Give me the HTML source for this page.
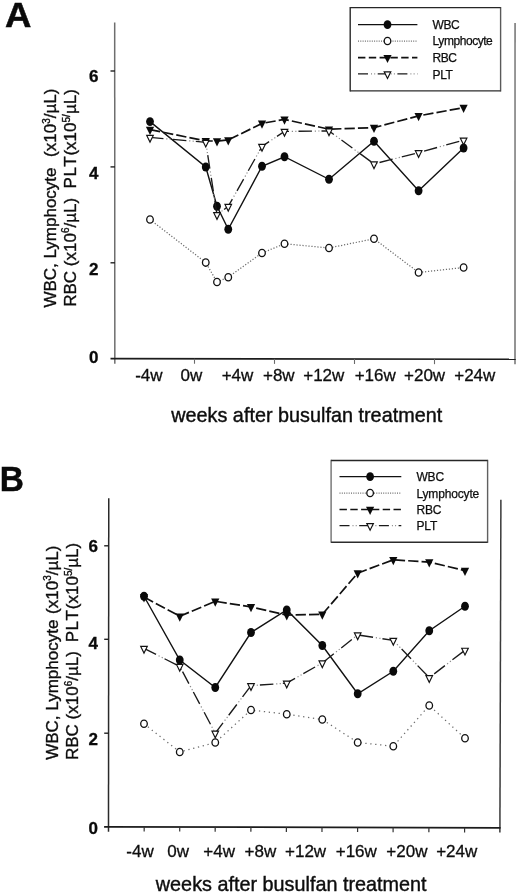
<!DOCTYPE html>
<html lang="en"><head><meta charset="utf-8"><title>Figure</title>
<style>
html,body{margin:0;padding:0;background:#fff;}
svg{display:block;font-family:"Liberation Sans", Arial, sans-serif;}
</style></head><body>
<svg width="520" height="895" viewBox="0 0 520 895">
<rect width="520" height="895" fill="#fff"/>

<text transform="translate(5.1,26.7) scale(1.05,1)" font-size="34.8" font-weight="bold" fill="#0a0a0a" stroke="#0a0a0a" stroke-width="0.5">A</text>
<line x1="114.7" y1="22.5" x2="114.8" y2="363.7" stroke="#6e6e6e" stroke-width="1.5"/>
<line x1="515.05" y1="22.9" x2="515.0" y2="364.3" stroke="#7c7c7c" stroke-width="1.6"/>
<line x1="110.5" y1="358.6" x2="515.7" y2="359.3" stroke="#1c1c1c" stroke-width="1.6"/>
<line x1="110.5" y1="71" x2="115" y2="71" stroke="#222" stroke-width="1.4"/>
<line x1="110.5" y1="166.9" x2="115" y2="166.9" stroke="#222" stroke-width="1.4"/>
<line x1="110.5" y1="262.8" x2="115" y2="262.8" stroke="#222" stroke-width="1.4"/>
<line x1="194.5" y1="358.75" x2="194.5" y2="363.75" stroke="#6a6a6a" stroke-width="1.1"/>
<line x1="274.5" y1="358.88" x2="274.5" y2="363.88" stroke="#6a6a6a" stroke-width="1.1"/>
<line x1="354.5" y1="359.02" x2="354.5" y2="364.02" stroke="#6a6a6a" stroke-width="1.1"/>
<line x1="434.5" y1="359.16" x2="434.5" y2="364.16" stroke="#6a6a6a" stroke-width="1.1"/>
<text x="93.7" y="81.9" font-size="17" font-weight="bold" text-anchor="middle" fill="#0a0a0a" stroke="#0a0a0a" stroke-width="0.3">6</text>
<text x="93.7" y="178.6" font-size="17" font-weight="bold" text-anchor="middle" fill="#0a0a0a" stroke="#0a0a0a" stroke-width="0.3">4</text>
<text x="93.7" y="274.7" font-size="17" font-weight="bold" text-anchor="middle" fill="#0a0a0a" stroke="#0a0a0a" stroke-width="0.3">2</text>
<text x="93.7" y="363.0" font-size="17" font-weight="bold" text-anchor="middle" fill="#0a0a0a" stroke="#0a0a0a" stroke-width="0.3">0</text>
<text x="148.9" y="381" font-size="17" text-anchor="middle" fill="#0e0e0e" stroke="#0e0e0e" stroke-width="0.3">-4w</text>
<text x="191.3" y="381" font-size="17" text-anchor="middle" fill="#0e0e0e" stroke="#0e0e0e" stroke-width="0.3">0w</text>
<text x="237.5" y="381" font-size="17" text-anchor="middle" fill="#0e0e0e" stroke="#0e0e0e" stroke-width="0.3">+4w</text>
<text x="278.8" y="381" font-size="17" text-anchor="middle" fill="#0e0e0e" stroke="#0e0e0e" stroke-width="0.3">+8w</text>
<text x="323.8" y="381" font-size="17" text-anchor="middle" fill="#0e0e0e" stroke="#0e0e0e" stroke-width="0.3">+12w</text>
<text x="375.2" y="381" font-size="17" text-anchor="middle" fill="#0e0e0e" stroke="#0e0e0e" stroke-width="0.3">+16w</text>
<text x="424.6" y="381" font-size="17" text-anchor="middle" fill="#0e0e0e" stroke="#0e0e0e" stroke-width="0.3">+20w</text>
<text x="474.8" y="381" font-size="17" text-anchor="middle" fill="#0e0e0e" stroke="#0e0e0e" stroke-width="0.3">+24w</text>
<text x="171.2" y="421.6" font-size="19.8" textLength="271" lengthAdjust="spacing" fill="#0e0e0e" stroke="#0e0e0e" stroke-width="0.4">weeks after busulfan treatment</text>
<text transform="translate(55.8,307.6) rotate(-90)" font-size="17" text-anchor="start" fill="#0e0e0e" stroke="#0e0e0e" stroke-width="0.35">WBC, Lymphocyte</text>
<text transform="translate(55.8,88.6) rotate(-90)" font-size="17" text-anchor="end" fill="#0e0e0e" stroke="#0e0e0e" stroke-width="0.35">(x10<tspan font-size="10" dy="-6.2">3</tspan><tspan dy="6.2">/</tspan>µL)</text>
<text transform="translate(75.6,306.8) rotate(-90)" font-size="17" text-anchor="start" fill="#0e0e0e" stroke="#0e0e0e" stroke-width="0.35">RBC (x10<tspan font-size="10" dy="-6.2">6</tspan><tspan dy="6.2">/</tspan>µL)</text>
<text transform="translate(75.6,89.2) rotate(-90)" font-size="17" text-anchor="end" fill="#0e0e0e" stroke="#0e0e0e" stroke-width="0.35"><tspan letter-spacing="0.5">PL</tspan><tspan letter-spacing="0.7">T</tspan>(x10<tspan font-size="10" dy="-6">5/</tspan><tspan dy="6">µL)</tspan></text>
<polyline points="150.00,121.60 205.75,167.00 217.00,206.25 228.25,229.25 262.00,166.25 284.50,156.75 329.00,179.25 374.00,141.25 418.60,190.75 463.60,148.00" fill="none" stroke="#111" stroke-width="1.4"/>
<ellipse cx="150.00" cy="121.60" rx="3.9" ry="4.45" fill="#0a0a0a"/>
<ellipse cx="205.75" cy="167.00" rx="3.9" ry="4.45" fill="#0a0a0a"/>
<ellipse cx="217.00" cy="206.25" rx="3.9" ry="4.45" fill="#0a0a0a"/>
<ellipse cx="228.25" cy="229.25" rx="3.9" ry="4.45" fill="#0a0a0a"/>
<ellipse cx="262.00" cy="166.25" rx="3.9" ry="4.45" fill="#0a0a0a"/>
<ellipse cx="284.50" cy="156.75" rx="3.9" ry="4.45" fill="#0a0a0a"/>
<ellipse cx="329.00" cy="179.25" rx="3.9" ry="4.45" fill="#0a0a0a"/>
<ellipse cx="374.00" cy="141.25" rx="3.9" ry="4.45" fill="#0a0a0a"/>
<ellipse cx="418.60" cy="190.75" rx="3.9" ry="4.45" fill="#0a0a0a"/>
<ellipse cx="463.60" cy="148.00" rx="3.9" ry="4.45" fill="#0a0a0a"/>
<polyline points="150.00,219.50 205.75,262.60 217.00,282.00 228.25,277.20 262.00,253.00 284.50,243.75 329.00,248.00 374.00,238.75 418.60,272.50 463.60,267.50" fill="none" stroke="#6c6c6c" stroke-width="1.25" stroke-linecap="butt" stroke-dasharray="1.2 1.8"/>
<ellipse cx="150.00" cy="219.50" rx="3.3" ry="3.65" fill="#fff" stroke="#111" stroke-width="1.3"/>
<ellipse cx="205.75" cy="262.60" rx="3.3" ry="3.65" fill="#fff" stroke="#111" stroke-width="1.3"/>
<ellipse cx="217.00" cy="282.00" rx="3.3" ry="3.65" fill="#fff" stroke="#111" stroke-width="1.3"/>
<ellipse cx="228.25" cy="277.20" rx="3.3" ry="3.65" fill="#fff" stroke="#111" stroke-width="1.3"/>
<ellipse cx="262.00" cy="253.00" rx="3.3" ry="3.65" fill="#fff" stroke="#111" stroke-width="1.3"/>
<ellipse cx="284.50" cy="243.75" rx="3.3" ry="3.65" fill="#fff" stroke="#111" stroke-width="1.3"/>
<ellipse cx="329.00" cy="248.00" rx="3.3" ry="3.65" fill="#fff" stroke="#111" stroke-width="1.3"/>
<ellipse cx="374.00" cy="238.75" rx="3.3" ry="3.65" fill="#fff" stroke="#111" stroke-width="1.3"/>
<ellipse cx="418.60" cy="272.50" rx="3.3" ry="3.65" fill="#fff" stroke="#111" stroke-width="1.3"/>
<ellipse cx="463.60" cy="267.50" rx="3.3" ry="3.65" fill="#fff" stroke="#111" stroke-width="1.3"/>
<polyline points="150.00,129.60 205.75,140.90 217.00,141.10 228.25,140.00 262.00,123.40 284.50,119.40 329.00,129.20 374.00,127.65 418.60,115.90 463.60,107.65" fill="none" stroke="#111" stroke-width="1.7" stroke-dasharray="10.3 3.1"/>
<polygon points="145.90,126.80 154.10,126.80 150.00,135.00" fill="#0a0a0a"/>
<polygon points="201.65,138.10 209.85,138.10 205.75,146.30" fill="#0a0a0a"/>
<polygon points="212.90,138.30 221.10,138.30 217.00,146.50" fill="#0a0a0a"/>
<polygon points="224.15,137.20 232.35,137.20 228.25,145.40" fill="#0a0a0a"/>
<polygon points="257.90,120.60 266.10,120.60 262.00,128.80" fill="#0a0a0a"/>
<polygon points="280.40,116.60 288.60,116.60 284.50,124.80" fill="#0a0a0a"/>
<polygon points="324.90,126.40 333.10,126.40 329.00,134.60" fill="#0a0a0a"/>
<polygon points="369.90,124.85 378.10,124.85 374.00,133.05" fill="#0a0a0a"/>
<polygon points="414.50,113.10 422.70,113.10 418.60,121.30" fill="#0a0a0a"/>
<polygon points="459.50,104.85 467.70,104.85 463.60,113.05" fill="#0a0a0a"/>
<polyline points="150.00,137.40 205.75,142.30 217.00,214.65 228.25,206.40 262.00,146.40 284.50,131.40 329.00,130.90 374.00,163.90 418.60,152.65 463.60,140.15" fill="none" stroke="#8a8a8a" stroke-width="1.2" stroke-dasharray="0 16.3 1.2 2.3 1.2 2"/>
<polyline points="150.00,137.40 205.75,142.30 217.00,214.65 228.25,206.40 262.00,146.40 284.50,131.40 329.00,130.90 374.00,163.90 418.60,152.65 463.60,140.15" fill="none" stroke="#1a1a1a" stroke-width="1.35" stroke-dasharray="13.5 9.5"/>
<polygon points="146.70,135.40 153.30,135.40 150.00,142.10" fill="#fff" stroke="#111" stroke-width="1.15" stroke-linejoin="miter"/>
<polygon points="202.45,140.30 209.05,140.30 205.75,147.00" fill="#fff" stroke="#111" stroke-width="1.15" stroke-linejoin="miter"/>
<polygon points="213.70,212.65 220.30,212.65 217.00,219.35" fill="#fff" stroke="#111" stroke-width="1.15" stroke-linejoin="miter"/>
<polygon points="224.95,204.40 231.55,204.40 228.25,211.10" fill="#fff" stroke="#111" stroke-width="1.15" stroke-linejoin="miter"/>
<polygon points="258.70,144.40 265.30,144.40 262.00,151.10" fill="#fff" stroke="#111" stroke-width="1.15" stroke-linejoin="miter"/>
<polygon points="281.20,129.40 287.80,129.40 284.50,136.10" fill="#fff" stroke="#111" stroke-width="1.15" stroke-linejoin="miter"/>
<polygon points="325.70,128.90 332.30,128.90 329.00,135.60" fill="#fff" stroke="#111" stroke-width="1.15" stroke-linejoin="miter"/>
<polygon points="370.70,161.90 377.30,161.90 374.00,168.60" fill="#fff" stroke="#111" stroke-width="1.15" stroke-linejoin="miter"/>
<polygon points="415.30,150.65 421.90,150.65 418.60,157.35" fill="#fff" stroke="#111" stroke-width="1.15" stroke-linejoin="miter"/>
<polygon points="460.30,138.15 466.90,138.15 463.60,144.85" fill="#fff" stroke="#111" stroke-width="1.15" stroke-linejoin="miter"/>
<rect x="350.2" y="7.65" width="150.40000000000003" height="83.25" fill="#fff"/>
<line x1="350.2" y1="7.0" x2="350.2" y2="91.55000000000001" stroke="#2a2a2a" stroke-width="1.4"/>
<line x1="500.6" y1="7.0" x2="500.6" y2="91.55000000000001" stroke="#5a5a5a" stroke-width="1.4"/>
<line x1="350.2" y1="7.65" x2="500.6" y2="7.65" stroke="#262626" stroke-width="1.35"/>
<line x1="350.2" y1="90.9" x2="500.6" y2="90.9" stroke="#2c2c2c" stroke-width="1.35"/>
<polyline points="358.00,24.60 387.50,24.60 417.40,24.60" fill="none" stroke="#111" stroke-width="1.4"/>
<ellipse cx="387.50" cy="24.60" rx="3.9" ry="4.45" fill="#0a0a0a"/>
<text x="432.6" y="28.8" font-size="12" letter-spacing="-0.45" fill="#0e0e0e" stroke="#0e0e0e" stroke-width="0.25">WBC</text>
<polyline points="358.00,41.00 387.50,41.00 417.40,41.00" fill="none" stroke="#6c6c6c" stroke-width="1.25" stroke-linecap="butt" stroke-dasharray="1 1.3"/>
<ellipse cx="387.50" cy="41.00" rx="3.3" ry="3.65" fill="#fff" stroke="#111" stroke-width="1.3"/>
<text x="432.6" y="45.4" font-size="12" letter-spacing="-0.45" fill="#0e0e0e" stroke="#0e0e0e" stroke-width="0.25">Lymphocyte</text>
<polyline points="358.00,57.70 387.50,57.70 417.40,57.70" fill="none" stroke="#111" stroke-width="1.7" stroke-dasharray="7.4 3.4"/>
<polygon points="383.40,54.90 391.60,54.90 387.50,63.10" fill="#0a0a0a"/>
<text x="432.6" y="62" font-size="12" letter-spacing="-0.45" fill="#0e0e0e" stroke="#0e0e0e" stroke-width="0.25">RBC</text>
<polyline points="358.00,73.80 387.50,73.80 417.40,73.80" fill="none" stroke="#8a8a8a" stroke-width="1.2" stroke-dasharray="0 13 1 2.2 1 2.5"/>
<polyline points="358.00,73.80 387.50,73.80 417.40,73.80" fill="none" stroke="#1a1a1a" stroke-width="1.35" stroke-dasharray="10 9.7"/>
<polygon points="384.20,71.80 390.80,71.80 387.50,78.50" fill="#fff" stroke="#111" stroke-width="1.15" stroke-linejoin="miter"/>
<text x="432.6" y="78.6" font-size="12" letter-spacing="-0.45" fill="#0e0e0e" stroke="#0e0e0e" stroke-width="0.25">PLT</text>
<text transform="translate(-0.2,491) scale(0.96,1)" font-size="34.8" font-weight="bold" fill="#0a0a0a" stroke="#0a0a0a" stroke-width="0.5">B</text>
<line x1="108.75" y1="498.3" x2="108.5" y2="831.7" stroke="#2a2a2a" stroke-width="1.5"/>
<line x1="500.9" y1="499.8" x2="499.9" y2="832.4" stroke="#3a3a3a" stroke-width="1.5"/>
<line x1="104.1" y1="826.8" x2="500.6" y2="827.9" stroke="#1c1c1c" stroke-width="1.7"/>
<line x1="104.2" y1="545.8" x2="109" y2="545.8" stroke="#222" stroke-width="1.4"/>
<line x1="104.2" y1="639.3" x2="109" y2="639.3" stroke="#222" stroke-width="1.4"/>
<line x1="104.2" y1="733.2" x2="109" y2="733.2" stroke="#222" stroke-width="1.4"/>
<line x1="144.2" y1="826.91" x2="144.18" y2="831.51" stroke="#333" stroke-width="1.2"/>
<line x1="179.75" y1="827.01" x2="179.73" y2="831.61" stroke="#333" stroke-width="1.2"/>
<line x1="215.2" y1="827.11" x2="215.18" y2="831.71" stroke="#333" stroke-width="1.2"/>
<line x1="250.9" y1="827.21" x2="250.88" y2="831.81" stroke="#333" stroke-width="1.2"/>
<line x1="286.4" y1="827.31" x2="286.38" y2="831.91" stroke="#333" stroke-width="1.2"/>
<line x1="322" y1="827.40" x2="321.98" y2="832.00" stroke="#333" stroke-width="1.2"/>
<line x1="357.6" y1="827.50" x2="357.58" y2="832.10" stroke="#333" stroke-width="1.2"/>
<line x1="393.1" y1="827.60" x2="393.08" y2="832.20" stroke="#333" stroke-width="1.2"/>
<line x1="428.9" y1="827.70" x2="428.88" y2="832.30" stroke="#333" stroke-width="1.2"/>
<line x1="464.6" y1="827.80" x2="464.58" y2="832.40" stroke="#333" stroke-width="1.2"/>
<text x="93.3" y="552.1" font-size="17" font-weight="bold" text-anchor="middle" fill="#0a0a0a" stroke="#0a0a0a" stroke-width="0.3">6</text>
<text x="93.3" y="648.7" font-size="17" font-weight="bold" text-anchor="middle" fill="#0a0a0a" stroke="#0a0a0a" stroke-width="0.3">4</text>
<text x="93.3" y="745.3" font-size="17" font-weight="bold" text-anchor="middle" fill="#0a0a0a" stroke="#0a0a0a" stroke-width="0.3">2</text>
<text x="93.3" y="833.7" font-size="17" font-weight="bold" text-anchor="middle" fill="#0a0a0a" stroke="#0a0a0a" stroke-width="0.3">0</text>
<text x="140" y="857" font-size="17" text-anchor="middle" fill="#0e0e0e" stroke="#0e0e0e" stroke-width="0.3">-4w</text>
<text x="178.1" y="857" font-size="17" text-anchor="middle" fill="#0e0e0e" stroke="#0e0e0e" stroke-width="0.3">0w</text>
<text x="219.2" y="857" font-size="17" text-anchor="middle" fill="#0e0e0e" stroke="#0e0e0e" stroke-width="0.3">+4w</text>
<text x="260.4" y="857" font-size="17" text-anchor="middle" fill="#0e0e0e" stroke="#0e0e0e" stroke-width="0.3">+8w</text>
<text x="305.6" y="857" font-size="17" text-anchor="middle" fill="#0e0e0e" stroke="#0e0e0e" stroke-width="0.3">+12w</text>
<text x="356.3" y="857" font-size="17" text-anchor="middle" fill="#0e0e0e" stroke="#0e0e0e" stroke-width="0.3">+16w</text>
<text x="406.9" y="857" font-size="17" text-anchor="middle" fill="#0e0e0e" stroke="#0e0e0e" stroke-width="0.3">+20w</text>
<text x="456.7" y="857" font-size="17" text-anchor="middle" fill="#0e0e0e" stroke="#0e0e0e" stroke-width="0.3">+24w</text>
<text x="155.8" y="891" font-size="19.8" textLength="270.8" lengthAdjust="spacing" fill="#0e0e0e" stroke="#0e0e0e" stroke-width="0.4">weeks after busulfan treatment</text>
<text transform="translate(57.6,759.8) rotate(-90)" font-size="17" text-anchor="start" fill="#0e0e0e" stroke="#0e0e0e" stroke-width="0.35">WBC, Lymphocyte</text>
<text transform="translate(57.6,545.6) rotate(-90)" font-size="17" text-anchor="end" fill="#0e0e0e" stroke="#0e0e0e" stroke-width="0.35">(x10<tspan font-size="10" dy="-6.2">3</tspan><tspan dy="6.2">/</tspan>µL)</text>
<text transform="translate(78.0,760.0) rotate(-90)" font-size="17" text-anchor="start" fill="#0e0e0e" stroke="#0e0e0e" stroke-width="0.35">RBC (x10<tspan font-size="10" dy="-6.2">6</tspan><tspan dy="6.2">/</tspan>µL)</text>
<text transform="translate(78.0,542.8) rotate(-90)" font-size="17" text-anchor="end" fill="#0e0e0e" stroke="#0e0e0e" stroke-width="0.35"><tspan letter-spacing="0.5">PL</tspan><tspan letter-spacing="0.9">T</tspan>(x10<tspan font-size="10" dy="-6">5/</tspan><tspan dy="6">µL)</tspan></text>
<polyline points="144.00,596.25 179.75,660.00 215.25,687.50 251.00,632.50 286.75,610.00 322.30,645.50 357.70,693.75 393.30,671.25 429.25,630.75 465.00,606.25" fill="none" stroke="#111" stroke-width="1.4"/>
<ellipse cx="144.00" cy="596.25" rx="3.9" ry="4.45" fill="#0a0a0a"/>
<ellipse cx="179.75" cy="660.00" rx="3.9" ry="4.45" fill="#0a0a0a"/>
<ellipse cx="215.25" cy="687.50" rx="3.9" ry="4.45" fill="#0a0a0a"/>
<ellipse cx="251.00" cy="632.50" rx="3.9" ry="4.45" fill="#0a0a0a"/>
<ellipse cx="286.75" cy="610.00" rx="3.9" ry="4.45" fill="#0a0a0a"/>
<ellipse cx="322.30" cy="645.50" rx="3.9" ry="4.45" fill="#0a0a0a"/>
<ellipse cx="357.70" cy="693.75" rx="3.9" ry="4.45" fill="#0a0a0a"/>
<ellipse cx="393.30" cy="671.25" rx="3.9" ry="4.45" fill="#0a0a0a"/>
<ellipse cx="429.25" cy="630.75" rx="3.9" ry="4.45" fill="#0a0a0a"/>
<ellipse cx="465.00" cy="606.25" rx="3.9" ry="4.45" fill="#0a0a0a"/>
<polyline points="144.00,723.75 179.75,752.00 215.25,742.50 251.00,710.00 286.75,714.25 322.30,719.50 357.70,742.50 393.30,746.25 429.25,705.50 465.00,738.25" fill="none" stroke="#6c6c6c" stroke-width="1.25" stroke-linecap="butt" stroke-dasharray="1.3 3.65"/>
<ellipse cx="144.00" cy="723.75" rx="3.3" ry="3.65" fill="#fff" stroke="#111" stroke-width="1.3"/>
<ellipse cx="179.75" cy="752.00" rx="3.3" ry="3.65" fill="#fff" stroke="#111" stroke-width="1.3"/>
<ellipse cx="215.25" cy="742.50" rx="3.3" ry="3.65" fill="#fff" stroke="#111" stroke-width="1.3"/>
<ellipse cx="251.00" cy="710.00" rx="3.3" ry="3.65" fill="#fff" stroke="#111" stroke-width="1.3"/>
<ellipse cx="286.75" cy="714.25" rx="3.3" ry="3.65" fill="#fff" stroke="#111" stroke-width="1.3"/>
<ellipse cx="322.30" cy="719.50" rx="3.3" ry="3.65" fill="#fff" stroke="#111" stroke-width="1.3"/>
<ellipse cx="357.70" cy="742.50" rx="3.3" ry="3.65" fill="#fff" stroke="#111" stroke-width="1.3"/>
<ellipse cx="393.30" cy="746.25" rx="3.3" ry="3.65" fill="#fff" stroke="#111" stroke-width="1.3"/>
<ellipse cx="429.25" cy="705.50" rx="3.3" ry="3.65" fill="#fff" stroke="#111" stroke-width="1.3"/>
<ellipse cx="465.00" cy="738.25" rx="3.3" ry="3.65" fill="#fff" stroke="#111" stroke-width="1.3"/>
<polyline points="144.00,597.10 179.75,616.25 215.25,601.30 251.00,606.90 286.75,615.10 322.30,614.40 357.70,573.10 393.30,559.80 429.25,562.10 465.00,570.60" fill="none" stroke="#111" stroke-width="1.7" stroke-dasharray="10.3 3.1"/>
<polygon points="139.90,594.30 148.10,594.30 144.00,602.50" fill="#0a0a0a"/>
<polygon points="175.65,613.45 183.85,613.45 179.75,621.65" fill="#0a0a0a"/>
<polygon points="211.15,598.50 219.35,598.50 215.25,606.70" fill="#0a0a0a"/>
<polygon points="246.90,604.10 255.10,604.10 251.00,612.30" fill="#0a0a0a"/>
<polygon points="282.65,612.30 290.85,612.30 286.75,620.50" fill="#0a0a0a"/>
<polygon points="318.20,611.60 326.40,611.60 322.30,619.80" fill="#0a0a0a"/>
<polygon points="353.60,570.30 361.80,570.30 357.70,578.50" fill="#0a0a0a"/>
<polygon points="389.20,557.00 397.40,557.00 393.30,565.20" fill="#0a0a0a"/>
<polygon points="425.15,559.30 433.35,559.30 429.25,567.50" fill="#0a0a0a"/>
<polygon points="460.90,567.80 469.10,567.80 465.00,576.00" fill="#0a0a0a"/>
<polyline points="144.00,648.40 179.75,666.40 215.25,733.15 251.00,685.65 286.75,683.15 322.30,662.90 357.70,634.90 393.30,640.40 429.25,677.65 465.00,650.20" fill="none" stroke="#8a8a8a" stroke-width="1.2" stroke-dasharray="0 16.3 1.2 2.3 1.2 2"/>
<polyline points="144.00,648.40 179.75,666.40 215.25,733.15 251.00,685.65 286.75,683.15 322.30,662.90 357.70,634.90 393.30,640.40 429.25,677.65 465.00,650.20" fill="none" stroke="#1a1a1a" stroke-width="1.35" stroke-dasharray="13.5 9.5"/>
<polygon points="140.70,646.40 147.30,646.40 144.00,653.10" fill="#fff" stroke="#111" stroke-width="1.15" stroke-linejoin="miter"/>
<polygon points="176.45,664.40 183.05,664.40 179.75,671.10" fill="#fff" stroke="#111" stroke-width="1.15" stroke-linejoin="miter"/>
<polygon points="211.95,731.15 218.55,731.15 215.25,737.85" fill="#fff" stroke="#111" stroke-width="1.15" stroke-linejoin="miter"/>
<polygon points="247.70,683.65 254.30,683.65 251.00,690.35" fill="#fff" stroke="#111" stroke-width="1.15" stroke-linejoin="miter"/>
<polygon points="283.45,681.15 290.05,681.15 286.75,687.85" fill="#fff" stroke="#111" stroke-width="1.15" stroke-linejoin="miter"/>
<polygon points="319.00,660.90 325.60,660.90 322.30,667.60" fill="#fff" stroke="#111" stroke-width="1.15" stroke-linejoin="miter"/>
<polygon points="354.40,632.90 361.00,632.90 357.70,639.60" fill="#fff" stroke="#111" stroke-width="1.15" stroke-linejoin="miter"/>
<polygon points="390.00,638.40 396.60,638.40 393.30,645.10" fill="#fff" stroke="#111" stroke-width="1.15" stroke-linejoin="miter"/>
<polygon points="425.95,675.65 432.55,675.65 429.25,682.35" fill="#fff" stroke="#111" stroke-width="1.15" stroke-linejoin="miter"/>
<polygon points="461.70,648.20 468.30,648.20 465.00,654.90" fill="#fff" stroke="#111" stroke-width="1.15" stroke-linejoin="miter"/>
<rect x="331.1" y="460.45" width="156.5" height="81.75000000000006" fill="#fff"/>
<line x1="331.1" y1="459.8" x2="331.1" y2="542.85" stroke="#707070" stroke-width="1.4"/>
<line x1="487.6" y1="459.8" x2="487.6" y2="542.85" stroke="#606060" stroke-width="1.4"/>
<line x1="331.1" y1="460.45" x2="487.6" y2="460.45" stroke="#262626" stroke-width="1.35"/>
<line x1="331.1" y1="542.2" x2="487.6" y2="542.2" stroke="#2c2c2c" stroke-width="1.35"/>
<polyline points="339.50,476.60 370.10,476.60 401.30,476.60" fill="none" stroke="#111" stroke-width="1.4"/>
<ellipse cx="370.10" cy="476.60" rx="3.9" ry="4.45" fill="#0a0a0a"/>
<text x="416.4" y="481.2" font-size="12" letter-spacing="-0.15" fill="#0e0e0e" stroke="#0e0e0e" stroke-width="0.25">WBC</text>
<polyline points="339.50,493.00 370.10,493.00 401.30,493.00" fill="none" stroke="#6c6c6c" stroke-width="1.25" stroke-linecap="butt" stroke-dasharray="1 1.3"/>
<ellipse cx="370.10" cy="493.00" rx="3.3" ry="3.65" fill="#fff" stroke="#111" stroke-width="1.3"/>
<text x="416.4" y="497.7" font-size="12" letter-spacing="-0.15" fill="#0e0e0e" stroke="#0e0e0e" stroke-width="0.25">Lymphocyte</text>
<polyline points="339.50,509.50 370.10,509.50 401.30,509.50" fill="none" stroke="#111" stroke-width="1.7" stroke-dasharray="7.4 3.4"/>
<polygon points="366.00,506.70 374.20,506.70 370.10,514.90" fill="#0a0a0a"/>
<text x="416.4" y="513.5" font-size="12" letter-spacing="-0.15" fill="#0e0e0e" stroke="#0e0e0e" stroke-width="0.25">RBC</text>
<polyline points="339.50,525.60 370.10,525.60 401.30,525.60" fill="none" stroke="#8a8a8a" stroke-width="1.2" stroke-dasharray="0 13 1 2.2 1 2.5"/>
<polyline points="339.50,525.60 370.10,525.60 401.30,525.60" fill="none" stroke="#1a1a1a" stroke-width="1.35" stroke-dasharray="10 9.7"/>
<polygon points="366.80,523.60 373.40,523.60 370.10,530.30" fill="#fff" stroke="#111" stroke-width="1.15" stroke-linejoin="miter"/>
<text x="416.4" y="529.7" font-size="12" letter-spacing="-0.15" fill="#0e0e0e" stroke="#0e0e0e" stroke-width="0.25">PLT</text>
</svg>
</body></html>
